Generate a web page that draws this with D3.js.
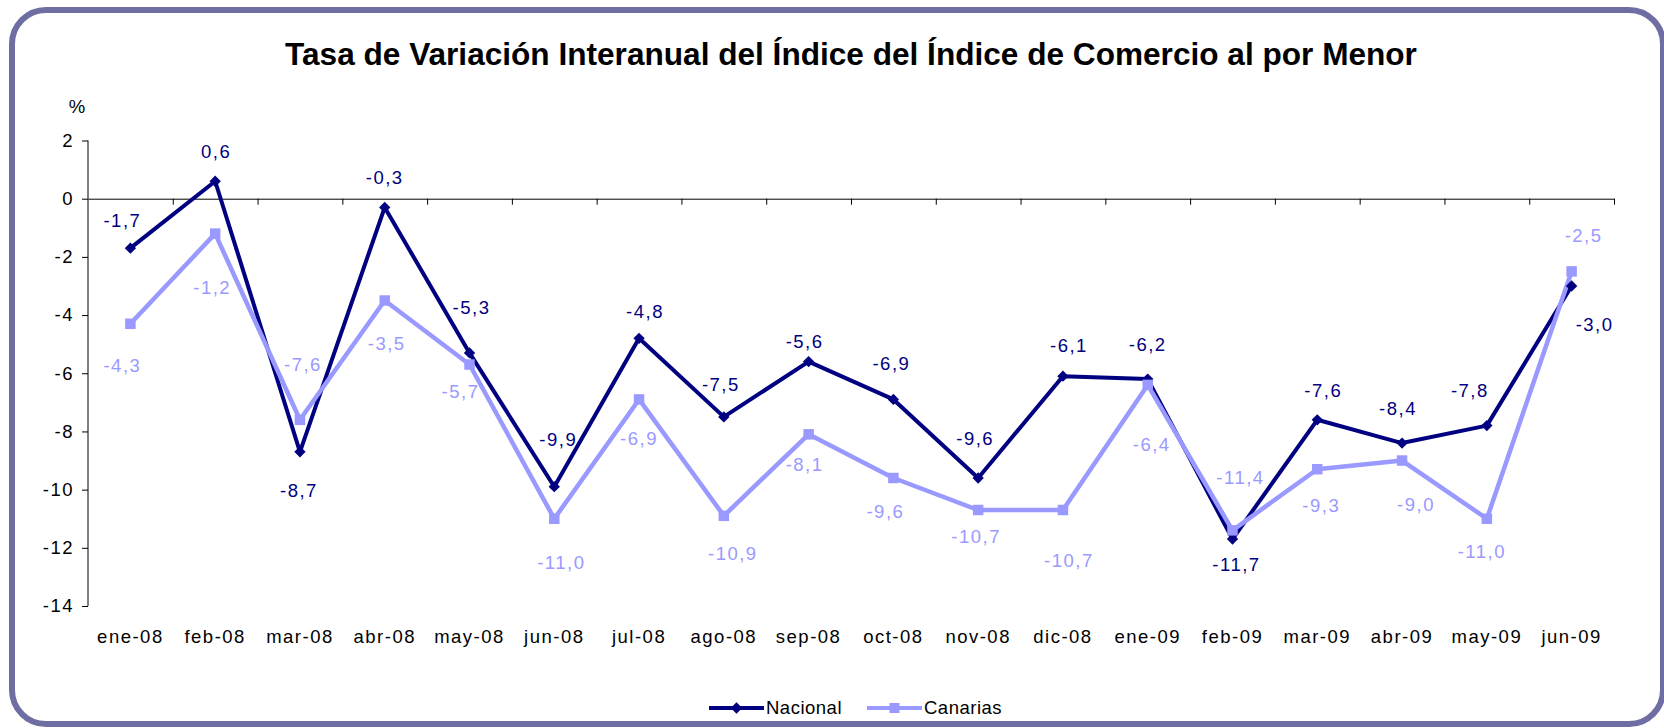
<!DOCTYPE html>
<html>
<head>
<meta charset="utf-8">
<script src="https://cdn.jsdelivr.net/npm/d3@7"></script>
<style>
  body { margin: 0; background: #fff; }
  svg { display: block; font-family: "Liberation Sans", Arial, sans-serif; }
</style>
</head>
<body>
<svg id="chart" width="1664" height="728"></svg>
<script>
// data
var categories = ["ene-08", "feb-08", "mar-08", "abr-08", "may-08", "jun-08", "jul-08", "ago-08", "sep-08",
                  "oct-08", "nov-08", "dic-08", "ene-09", "feb-09", "mar-09", "abr-09", "may-09", "jun-09"];
var nacional = [-1.7, 0.6, -8.7, -0.3, -5.3, -9.9, -4.8, -7.5, -5.6, -6.9, -9.6, -6.1, -6.2, -11.7, -7.6, -8.4, -7.8, -3.0];
var canarias = [-4.3, -1.2, -7.6, -3.5, -5.7, -11.0, -6.9, -10.9, -8.1, -9.6, -10.7, -10.7, -6.4, -11.4, -9.3, -9.0, -11.0, -2.5];
var yTicks = [2, 0, -2, -4, -6, -8, -10, -12, -14];
var seriesNames = ["Nacional", "Canarias"];

// where each data label sits relative to its point (hand placed in the original)
var nacLabelDx = [-8, 1, -1, 0, 2, 4, 6, -3, -4, -2, -3, 6, 0, 4, 6, -4, -17, 23];
var nacLabelDy = [-21, -23, 45, -23, -39, -41, -20, -26, -14, -29, -33, -24, -28, 32, -23, -28, -29, 45];
var canLabelDx = [-8, -3, 3, 2, -9, 7, 0, 9, -4, -8, -2, 6, 4, 8, 4, 14, -5, 12];
var canLabelDy = [48, 60, -49, 49, 33, 50, 46, 44, 37, 40, 33, 57, 66, -46, 43, 50, 39, -29];

var colNac = "#000080", colCan = "#9999ff";
var svg = d3.select("#chart");

// frame
svg.append("rect")
   .attr("x", 12).attr("y", 10)
   .attr("width", 1651).attr("height", 714)
   .attr("rx", 34).attr("ry", 34)
   .attr("fill", "#fff")
   .attr("stroke", "#6e6ea3")
   .attr("stroke-width", 6);

// title
svg.append("text")
   .attr("x", 851).attr("y", 64.5)
   .attr("text-anchor", "middle")
   .style("font-size", "31.6px")
   .style("font-weight", "bold")
   .text("Tasa de Variación Interanual del Índice del Índice de Comercio al por Menor");

var dim = { left: 88, right: 1614, top: 140.5, bottom: 606 };

var xScale = d3.scaleBand().domain(categories).range([dim.left, dim.right]);
var xMid = function(i) { return xScale(categories[i]) + xScale.bandwidth() / 2; };
var yScale = d3.scaleLinear().domain([-14, 2]).range([dim.bottom, dim.top]);

// y axis
var yAxis = d3.axisLeft(yScale).tickValues(yTicks).tickSize(6).tickPadding(8)
              .tickFormat(function(d) { return String(d); });
var gy = svg.append("g").attr("transform", "translate(" + dim.left + ",0)").call(yAxis);
gy.select(".domain").attr("d", "M0," + dim.top + "V" + dim.bottom);
gy.selectAll("text").style("font-size", "18.5px").style("letter-spacing", "1.5px").attr("fill", "#000");

// category axis line at zero, ticks between categories
var edgeScale = d3.scaleLinear().domain([0, categories.length]).range([dim.left, dim.right]);
var xAxisLine = d3.axisBottom(edgeScale).tickValues(d3.range(1, categories.length + 1))
                  .tickSize(6).tickSizeOuter(0).tickFormat("");
svg.append("g").attr("transform", "translate(0," + yScale(0) + ")").call(xAxisLine);

// category labels
var xLabels = d3.axisBottom(xScale).tickSize(0).tickPadding(12);
var gx = svg.append("g").attr("transform", "translate(0,618)").call(xLabels);
gx.select(".domain").remove();
gx.selectAll("text").style("font-size", "18.5px").style("letter-spacing", "1.5px").attr("fill", "#000");

// % label
svg.append("text").attr("x", 77).attr("y", 112.5).attr("text-anchor", "middle")
   .style("font-size", "18.5px").text("%");

var line = d3.line()
             .x(function(d, i) { return xMid(i); })
             .y(function(d) { return yScale(d); });

svg.append("path").datum(nacional).attr("d", line)
   .attr("fill", "none").attr("stroke", colNac).attr("stroke-width", 4).attr("stroke-linejoin", "round");
svg.append("path").datum(canarias).attr("d", line)
   .attr("fill", "none").attr("stroke", colCan).attr("stroke-width", 4.5).attr("stroke-linejoin", "round");

var diamond = d3.symbol().type(d3.symbolSquare).size(64);
var square = d3.symbol().type(d3.symbolSquare).size(110);

svg.append("g").selectAll("path").data(nacional).enter().append("path")
   .attr("d", diamond)
   .attr("transform", function(d, i) { return "translate(" + xMid(i) + "," + yScale(d) + ") rotate(45)"; })
   .attr("fill", colNac);
svg.append("g").selectAll("path").data(canarias).enter().append("path")
   .attr("d", square)
   .attr("transform", function(d, i) { return "translate(" + xMid(i) + "," + yScale(d) + ")"; })
   .attr("fill", colCan);

var fmt = function(d) { return d.toFixed(1).replace(".", ","); };

function labels(data, dx, dy, color) {
  svg.append("g").selectAll("text").data(data).enter().append("text")
     .attr("x", function(d, i) { return xMid(i) + dx[i]; })
     .attr("y", function(d, i) { return yScale(d) + dy[i]; })
     .attr("text-anchor", "middle")
     .style("font-size", "18.5px")
     .style("letter-spacing", "1.5px")
     .attr("fill", color)
     .text(fmt);
}
labels(nacional, nacLabelDx, nacLabelDy, colNac);
labels(canarias, canLabelDx, canLabelDy, colCan);

// legend
var legend = [
  { name: seriesNames[0], x: 709, color: colNac, sym: diamond, rot: 45 },
  { name: seriesNames[1], x: 867, color: colCan, sym: d3.symbol().type(d3.symbolSquare).size(100), rot: 0 }
];
var lg = svg.append("g").selectAll("g").data(legend).enter().append("g")
            .attr("transform", function(d) { return "translate(" + d.x + ",708)"; });
lg.append("line").attr("x1", 0).attr("x2", 55).attr("stroke", function(d) { return d.color; }).attr("stroke-width", 4);
lg.append("path").attr("d", function(d) { return d.sym(); })
  .attr("transform", function(d) { return "translate(27.5,0) rotate(" + d.rot + ")"; })
  .attr("fill", function(d) { return d.color; });
lg.append("text").attr("x", 57).attr("y", 6).style("font-size", "18.5px").style("letter-spacing", "0.5px")
  .text(function(d) { return d.name; });
</script>
</body>
</html>
